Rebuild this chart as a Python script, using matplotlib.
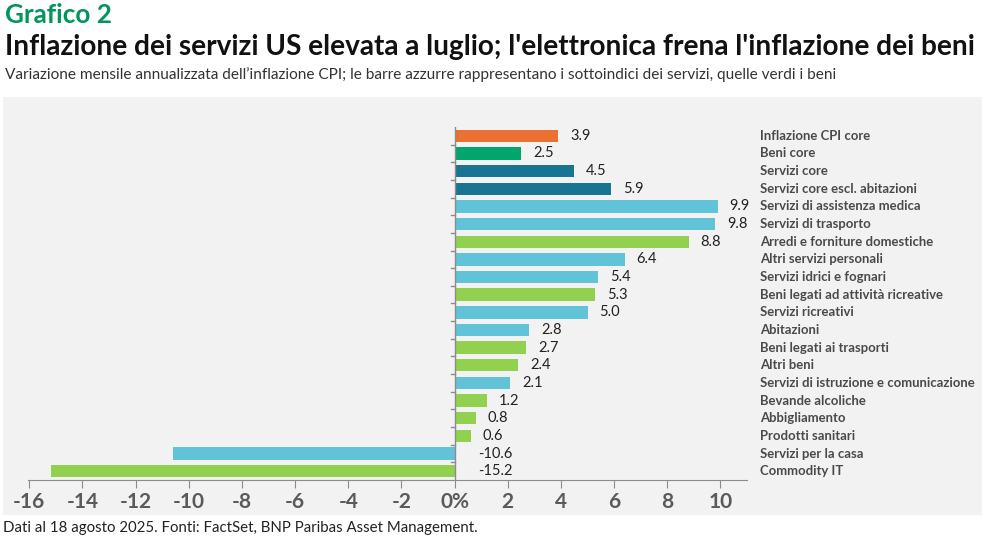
import matplotlib.pyplot as plt

categories = [
    'Inflazione CPI core', 'Beni core', 'Servizi core', 'Servizi core escl. abitazioni',
    'Servizi di assistenza medica', 'Servizi di trasporto', 'Arredi e forniture domestiche',
    'Altri servizi personali', 'Servizi idrici e fognari', 'Beni legati ad attività ricreative',
    'Servizi ricreativi', 'Abitazioni', 'Beni legati ai trasporti', 'Altri beni',
    'Servizi di istruzione e comunicazione', 'Bevande alcoliche', 'Abbigliamento',
    'Prodotti sanitari', 'Servizi per la casa', 'Commodity IT',
]
values = [3.9, 2.5, 4.5, 5.9, 9.9, 9.8, 8.8, 6.4, 5.4, 5.3,
          5.0, 2.8, 2.7, 2.4, 2.1, 1.2, 0.8, 0.6, -10.6, -15.2]
groups = ['total', 'goods_core', 'services_core', 'services_core', 'service', 'service', 'good',
          'service', 'service', 'good', 'service', 'service', 'good', 'good',
          'service', 'good', 'good', 'good', 'service', 'good']
xticks = list(range(-16, 11, 2))
xtick_labels = ['0%' if t == 0 else str(t) for t in xticks]

palette = {'total': '#EA7131', 'goods_core': '#00A66C', 'services_core': '#177592',
           'service': '#60C3D8', 'good': '#92D14F'}

plt.rcParams['font.family'] = ['Lato', 'DejaVu Sans']

fig = plt.figure(figsize=(9.82, 5.4), dpi=100)
renderer = fig.canvas.get_renderer()


def fit_width(txt, width_px, start=20):
    # shrink a text until it spans about width_px pixels
    size = start
    txt.set_fontsize(size)
    w = txt.get_window_extent(renderer).width
    txt.set_fontsize(size * width_px / w)


bg = fig.add_axes([3 / 982, 1 - 515 / 540, 979 / 982, 418 / 540], zorder=-1)
bg.set_axis_off()
bg.add_patch(plt.Rectangle((0, 0), 1, 1, color='#F2F2F2', transform=bg.transAxes))

ax = fig.add_axes([28 / 982, 1 - 480 / 540, 719 / 982, 353 / 540])
ax.patch.set_alpha(0)

ypos = list(range(len(values)))
ax.barh(ypos, values, height=0.7, color=[palette[g] for g in groups], zorder=2)
ax.set_ylim(len(values) - 0.5, -0.5)
ax.set_xlim(-16.05, 11)

cat_texts = []
for y, v, name in zip(ypos, values, categories):
    x = v + 0.45 if v >= 0 else 0.9
    ax.text(x, y, f'{v:.1f}', va='center', ha='left', fontsize=10.5, color='#222222')
    cat_texts.append(ax.text(11.5, y, name, va='center', ha='left', fontsize=9.5,
                             fontweight='bold', color='#4A4A4A', clip_on=False))

# the longest label should end at the right edge of the panel
longest = cat_texts[categories.index('Servizi di istruzione e comunicazione')]
fit_width(longest, 974 - 760, start=10)
for t in cat_texts:
    t.set_fontsize(longest.get_fontsize())

for s in ['top', 'right', 'left']:
    ax.spines[s].set_visible(False)
ax.spines['bottom'].set_color('#8C8C8C')
ax.axvline(0, color='#8C8C8C', lw=1, zorder=3)
ax.set_xticks(xticks)
ax.set_xticklabels(xtick_labels, fontsize=15, fontweight='bold', color='#5A5A5A')
ax.tick_params(axis='x', length=6, color='#8C8C8C', pad=3)
ax.set_yticks([])
for b in range(1, len(values)):
    ax.plot([-0.15, 0], [b - 0.5, b - 0.5], color='#8C8C8C', lw=1, zorder=3)

label = fig.text(5 / 982, 1 - 15 / 540, 'Grafico 2', fontweight='bold',
                 color='#00965E', va='center', ha='left')
fit_width(label, 107)
title = fig.text(5 / 982, 1 - 47 / 540,
                 "Inflazione dei servizi US elevata a luglio; l'elettronica frena l'inflazione dei beni",
                 fontweight='bold', color='#111111', va='center', ha='left')
fit_width(title, 970)
sub = fig.text(5 / 982, 1 - 75 / 540,
               "Variazione mensile annualizzata dell’inflazione CPI; le barre azzurre rappresentano i sottoindici dei servizi, quelle verdi i beni",
               color='#333333', va='center', ha='left')
fit_width(sub, 830, start=11)
foot = fig.text(3 / 982, 1 - 528 / 540,
                'Dati al 18 agosto 2025. Fonti: FactSet, BNP Paribas Asset Management.',
                color='#222222', va='center', ha='left')
fit_width(foot, 475, start=11)

fig.savefig('out.png', dpi=100)
